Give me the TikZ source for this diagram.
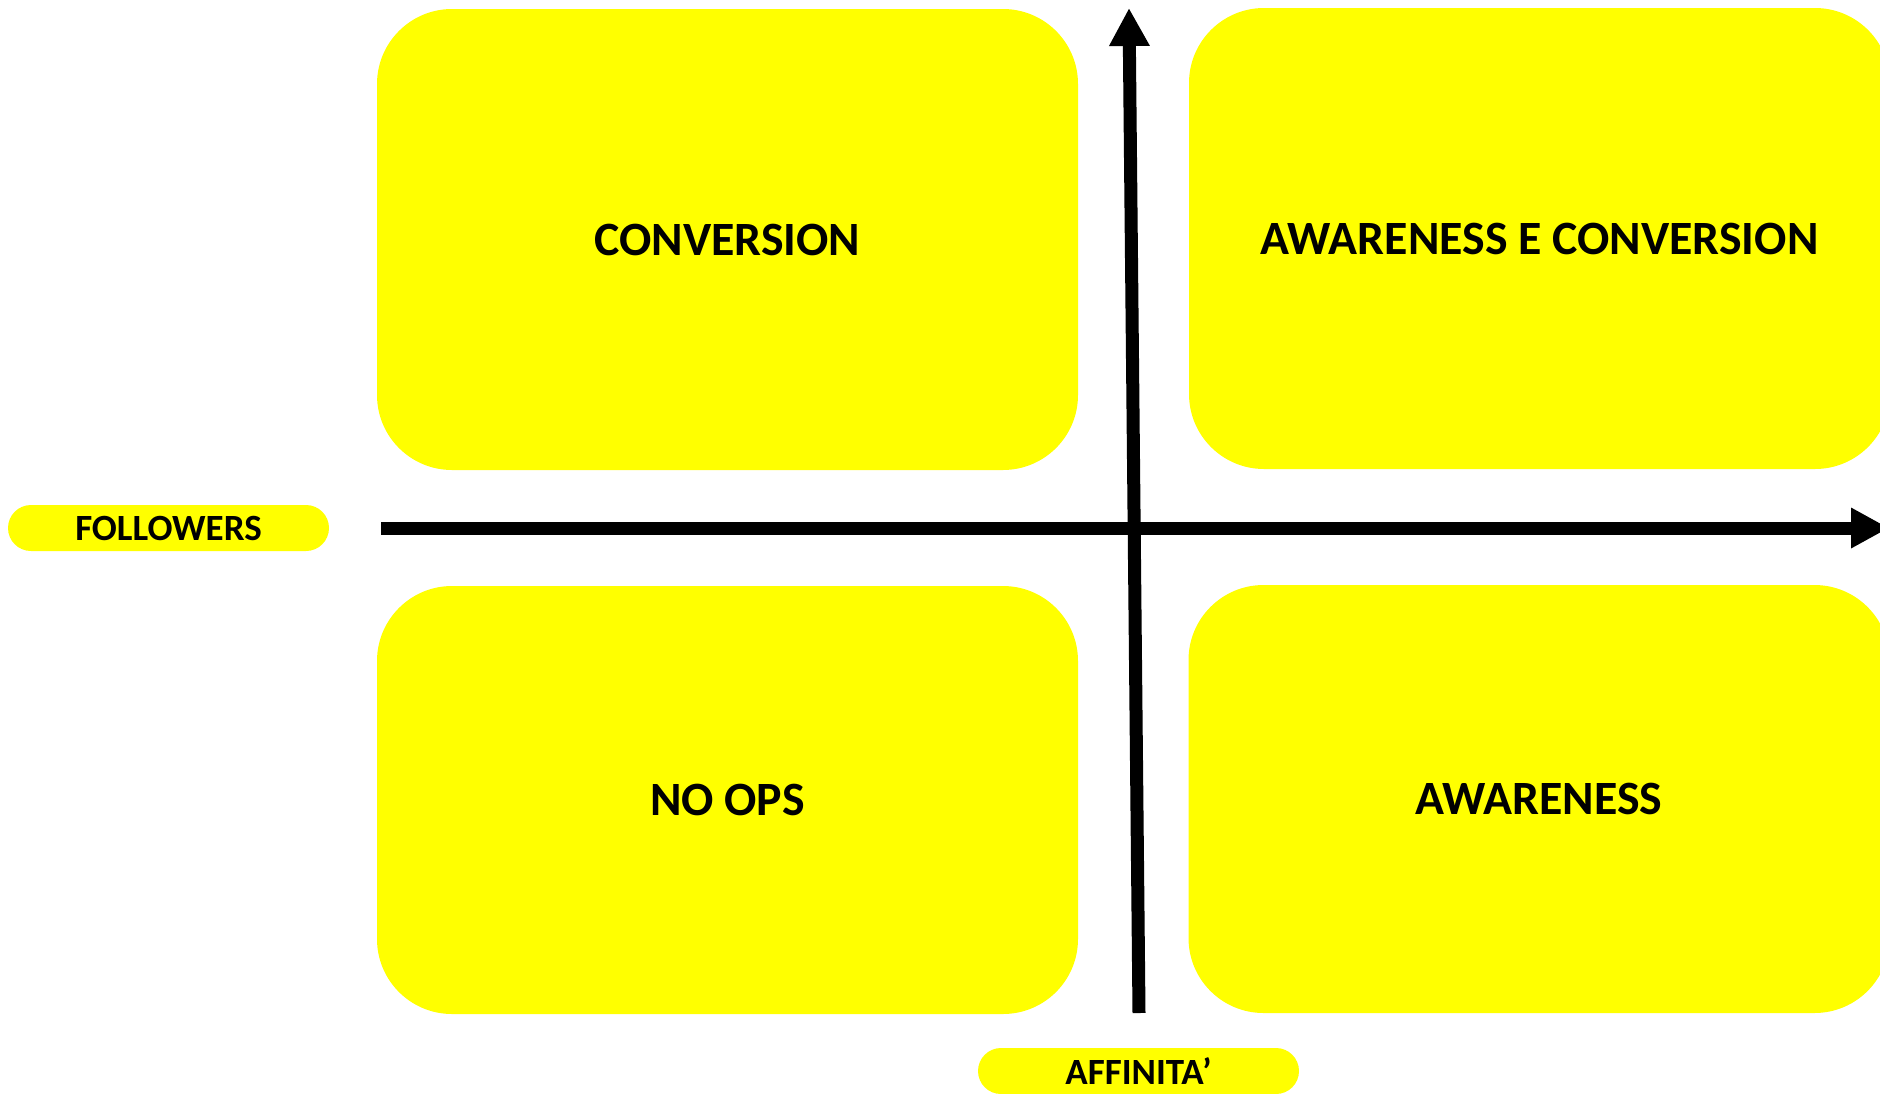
\documentclass[tikz,border=0pt]{standalone}
\usepackage{fontspec}
\setmainfont{Carlito}
\usetikzlibrary{arrows.meta}
\definecolor{quadyellow}{RGB}{255,255,0}

\begin{document}
\begin{tikzpicture}[
    x=0.5pt, y=-0.5pt,
    every node/.append style = {font=\bfseries},
    quadrant/.style = {fill=quadyellow, rounded corners=37.5pt, inner sep=0pt,
      minimum width=350.5pt, font=\fontsize{23.9}{28}\bfseries},
    tag/.style = {fill=quadyellow, rounded corners=11.5pt, inner sep=0pt,
      minimum width=160.5pt, minimum height=23pt,
      font=\fontsize{18.5}{21}\bfseries},
    axis/.style = {line width=6.5pt, -{Triangle[width=19pt, length=19pt]}}
  ]
  \useasboundingbox (0,0) rectangle (1880,1093);
  \clip (0,0) rectangle (1880,1093);
  % the four quadrants
  \node[quadrant, minimum height=230.5pt] (conv) at (727.5,239.5) {CONVERSION};
  \node[quadrant, minimum height=230.5pt] (awconv) at (1539.5,238.5)
    {AWARENESS E CONVERSION};
  \node[quadrant, minimum height=214pt] (noops) at (727.5,800) {NO OPS};
  \node[quadrant, minimum height=214pt] (aware) at (1539,799) {AWARENESS};
  % axis names
  \node[tag] (followers) at (168.5,528) {FOLLOWERS};
  \node[tag] (affinita) at (1138.5,1071) {AFFINITA’};
  % axes
  \coordinate (xstart) at (381,528);
  \coordinate (xend) at (1889,528);
  \coordinate (ystart) at (1139,1013);
  \coordinate (yend) at (1129,8);
  \draw[axis] (xstart) -- (xend);
  \draw[axis] (ystart) -- (yend);
\end{tikzpicture}
\end{document}
